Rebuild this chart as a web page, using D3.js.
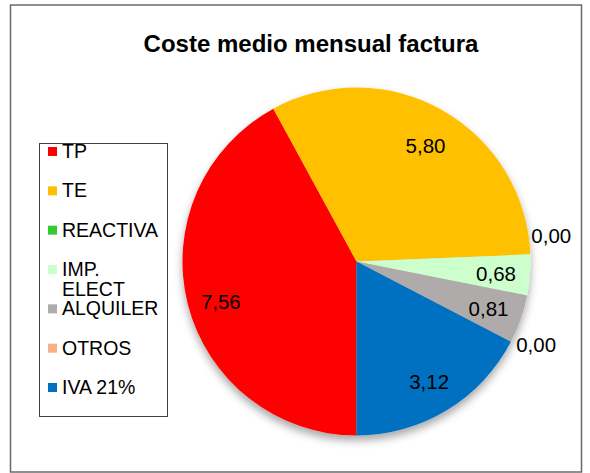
<!DOCTYPE html>
<html>
<head>
<meta charset="utf-8">
<script src="https://cdn.jsdelivr.net/npm/d3@7"></script>
<style>
  html, body { margin: 0; padding: 0; background: #fff; }
  svg { display: block; font-family: "Liberation Sans", Arial, sans-serif; }
</style>
</head>
<body>
<svg id="chart" width="590" height="473"></svg>
<script>
// ---- data ----
const title = "Coste medio mensual factura";
const categories = ["TP", "TE", "REACTIVA", "IMP. ELECT", "ALQUILER", "OTROS", "IVA 21%"];
const values = [7.56, 5.80, 0.00, 0.68, 0.81, 0.00, 3.12];
const colors = ["#FF0000", "#FFC000", "#33CC33", "#CCFFCC", "#AFABAB", "#F4B183", "#0070C0"];

const svg = d3.select("#chart");

// frame
svg.append("rect").attr("x", 10.5).attr("y", 5).attr("width", 571).attr("height", 467)
  .attr("fill", "#fff").attr("stroke", "#6a6a6a").attr("stroke-width", 1.5);

// title
svg.append("text").attr("x", 311).attr("y", 52).attr("text-anchor", "middle")
  .attr("font-size", 24).attr("font-weight", "bold").attr("fill", "#000").text(title);

// shadow filter
const defs = svg.append("defs");
const f = defs.append("filter").attr("id", "shadow").attr("x", "-20%").attr("y", "-20%").attr("width", "140%").attr("height", "140%");
f.append("feDropShadow").attr("dx", 0).attr("dy", 5).attr("stdDeviation", 4)
  .attr("flood-color", "#000").attr("flood-opacity", 0.35);

// pie
const cx = 356.5, cy = 261.5, R = 174;
const data = categories.map((c, i) => ({ cat: c, value: values[i], color: colors[i] }));
const pie = d3.pie().sort(null).value(d => d.value).startAngle(Math.PI).endAngle(3 * Math.PI);
const arcs = pie(data);
const arc = d3.arc().innerRadius(0).outerRadius(R);
const labelArc = d3.arc().innerRadius(140).outerRadius(140);

const g = svg.append("g").attr("transform", `translate(${cx},${cy})`);
g.append("g").attr("filter", "url(#shadow)")
  .selectAll("path").data(arcs).join("path")
  .attr("d", arc).attr("fill", d => d.data.color);

// labels
const fmt = v => v.toFixed(2).replace(".", ",");
const labels = arcs.map(a => {
  const mid = (a.startAngle + a.endAngle) / 2;
  if (a.data.value > 0) {
    const [x, y] = labelArc.centroid(a);
    // large slices: labels sit slightly lower (best-fit placement)
    const shift = (a.endAngle - a.startAngle) > 1.5 ? 6 : 1;
    return { text: fmt(a.data.value), x, y: y + shift, anchor: "middle", inside: true };
  }
  const rr = R + 6;
  return { text: fmt(a.data.value), x: rr * Math.sin(mid), y: -rr * Math.cos(mid), anchor: "start", inside: false };
});
// simple collision avoidance for outside labels: push up when too close to another label
const lh = 38;
labels.forEach(l => {
  if (l.inside) return;
  labels.forEach(o => {
    if (o === l) return;
    if (Math.abs(o.y - l.y) < 22 && Math.abs(o.x - l.x) < 60 && o.y > l.y) {
      l.y = o.y - lh;
      l.x -= 5;
    }
  });
});
g.selectAll("text.lbl").data(labels).join("text").attr("class", "lbl")
  .attr("x", d => d.x).attr("y", d => d.y).attr("dy", "0.35em")
  .attr("text-anchor", d => d.anchor).attr("font-size", 20.5).attr("fill", "#000")
  .text(d => d.text);

// legend
const lg = svg.append("g");
lg.append("rect").attr("x", 39.5).attr("y", 143.5).attr("width", 128).attr("height", 273)
  .attr("fill", "#fff").attr("stroke", "#404040").attr("stroke-width", 1);
const ly = d3.scalePoint().domain(categories).range([158, 394]);
const items = lg.selectAll("g.item").data(data).join("g").attr("class", "item");
items.append("rect").attr("x", 48).attr("y", d => ly(d.cat) - 11).attr("width", 9).attr("height", 9)
  .attr("fill", d => d.color);
items.each(function(d) {
  const t = d3.select(this).append("text").attr("x", 62).attr("y", ly(d.cat))
    .attr("font-size", 19.5).attr("fill", "#000");
  const words = d.cat === "IMP. ELECT" ? ["IMP.", "ELECT"] : [d.cat];
  words.forEach((w, i) => t.append("tspan").attr("x", 62).attr("dy", i === 0 ? 0 : 20).text(w));
});
</script>
</body>
</html>
